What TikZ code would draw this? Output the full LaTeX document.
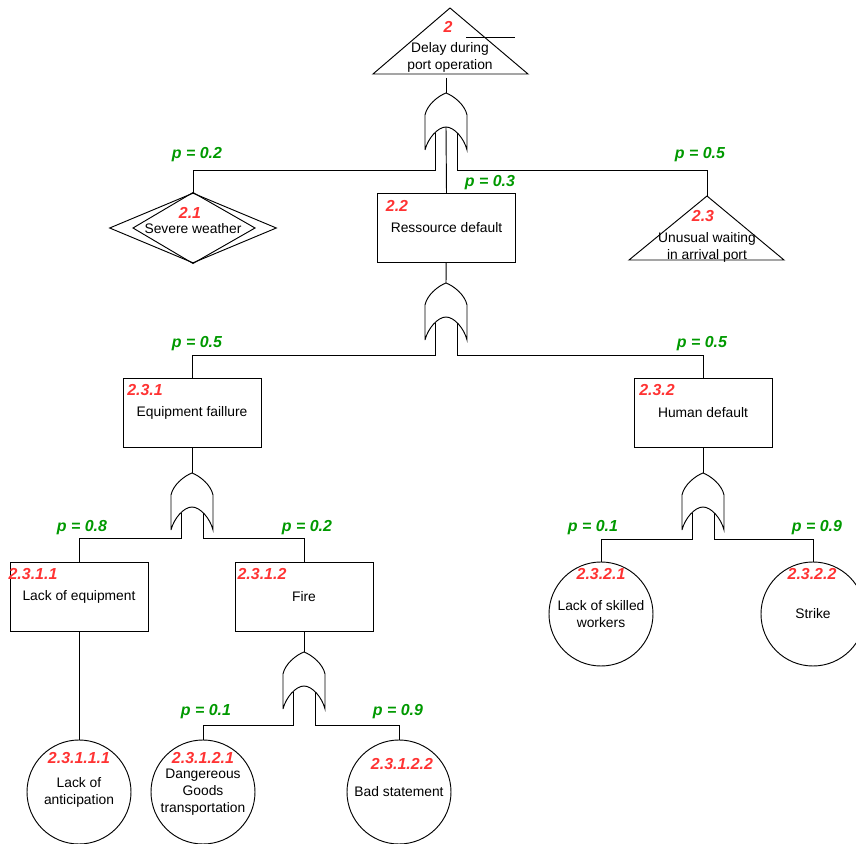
\documentclass[tikz,border=0pt]{standalone}
\usepackage{fontspec}
\setmainfont{Liberation Sans}
\usetikzlibrary{shapes.geometric}
\definecolor{numred}{HTML}{FF3333}
\definecolor{pgreen}{HTML}{009900}
\begin{document}
\begin{tikzpicture}[x=0.03cm, y=-0.03cm, line width=0.8pt,
            every node/.style={font=\fontsize{11.8}{14.5}\selectfont, align=center},
            box/.style={draw, minimum width=4.14cm, minimum height=2.07cm, inner sep=0pt},
            basic/.style={draw, circle, minimum size=3.12cm, inner sep=0pt},
            num/.style={text=numred, inner sep=0pt, font=\fontsize{13.6}{16}\selectfont\bfseries\itshape},
            prob/.style={text=pgreen, inner sep=0pt, font=\fontsize{13.6}{16}\selectfont\bfseries\itshape},
            orgate/.pic={
                \draw (-21,57) -- (-21,22) .. controls (-19,12) and (-8,3) .. (0,0)
                    .. controls (8,3) and (19,12) .. (21,22) -- (21,57)
                    .. controls (18,45) and (8,34) .. (0,34)
                    .. controls (-8,34) and (-18,45) .. (-21,57);
                \coordinate (-in) at (0,0);
                \coordinate (-l) at (-11,40);
                \coordinate (-m) at (0,34);
                \coordinate (-r) at (11,40);
            }]
            \useasboundingbox (0,0) rectangle (856,844);
            % top event
            \draw (373,74) -- (450,8) -- (528,74) -- cycle;
            \draw (466,37) -- (515,37);
            \node[num] (n2) at (448,27) {2};
            \node (top) at (450,57.5) {Delay during\\port operation};
            \coordinate (e2) at (446,78);
            \pic (g1) at (446,93) {orgate};
            \draw (e2) -- (g1-in);
            % first level
            \node[draw, diamond, minimum width=5.01cm, minimum height=2.1cm, inner sep=0pt] (d21) at (193,228) {};
            \draw (d21.north) -- (133,228) -- (d21.south) -- (255,228) -- cycle;
            \node[num] (n21) at (190,213) {2.1};
            \node (t21) at (193,228.5) {Severe weather};
            \node[box] (b22) at (446.5,228) {Ressource default};
            \node[num] (n22) at (397,206) {2.2};
            \coordinate (t23) at (707,196);
            \draw (t23) -- (784,260) -- (629,260) -- cycle;
            \node[num] (n23) at (703,216) {2.3};
            \node (t23txt) at (707,247) {Unusual waiting\\in arrival port};
            \draw (g1-l) -- ++(0,37) -| (d21.north);
            \draw (g1-m) -- (b22.north);
            \draw (g1-r) -- ++(0,37) -| (t23);
            \node[prob] at (197,155) {p = 0.2};
            \node[prob] at (490,183) {p = 0.3};
            \node[prob] at (700,155) {p = 0.5};
            % second level
            \pic (g2) at (446,283) {orgate};
            \draw (b22) -- (g2-in);
            \node[box] (b231) at (192,412.5) {Equipment faillure};
            \node[num] (n231) at (145,390) {2.3.1};
            \node[box] (b232) at (703,412.5) {Human default};
            \node[num] (n232) at (657,390) {2.3.2};
            \draw (g2-l) -- ++(0,32) -| (b231.north);
            \draw (g2-r) -- ++(0,32) -| (b232.north);
            \node[prob] at (197,344) {p = 0.5};
            \node[prob] at (702,344) {p = 0.5};
            % equipment branch
            \pic (g3) at (192,473) {orgate};
            \draw (b231) -- (g3-in);
            \node[box] (b2311) at (79,596.5) {Lack of equipment};
            \node[num] (n2311) at (33,574) {2.3.1.1};
            \node[box] (b2312) at (304,597) {Fire};
            \node[num] (n2312) at (262,574) {2.3.1.2};
            \draw (g3-l) -- ++(0,25) -| (b2311.north);
            \draw (g3-r) -- ++(0,25) -| (b2312.north);
            \node[prob] at (82,528) {p = 0.8};
            \node[prob] at (307,528) {p = 0.2};
            \node[basic] (c23111) at (79,792) {Lack of\\anticipation};
            \node[num] (n23111) at (79,758) {2.3.1.1.1};
            \draw (b2311) -- (c23111);
            \pic (g5) at (304,652) {orgate};
            \draw (b2312) -- (g5-in);
            \node[basic] (c23121) at (203,792) {Dangereous\\Goods\\transportation};
            \node[num] (n23121) at (203,758) {2.3.1.2.1};
            \node[basic] (c23122) at (399,792) {Bad statement};
            \node[num] (n23122) at (402,764) {2.3.1.2.2};
            \draw (g5-l) -- ++(0,33) -| (c23121.north);
            \draw (g5-r) -- ++(0,33) -| (c23122.north);
            \node[prob] at (206,712) {p = 0.1};
            \node[prob] at (398,712) {p = 0.9};
            % human branch
            \pic (g4) at (703,473) {orgate};
            \draw (b232) -- (g4-in);
            \node[basic] (c2321) at (601,614) {Lack of skilled\\workers};
            \node[num] (n2321) at (601,574) {2.3.2.1};
            \node[basic] (c2322) at (813,614) {Strike};
            \node[num] (n2322) at (812,574) {2.3.2.2};
            \draw (g4-l) -- ++(0,26) -| (c2321.north);
            \draw (g4-r) -- ++(0,26) -| (c2322.north);
            \node[prob] at (593,528) {p = 0.1};
            \node[prob] at (817,528) {p = 0.9};
        \end{tikzpicture}
\end{document}
